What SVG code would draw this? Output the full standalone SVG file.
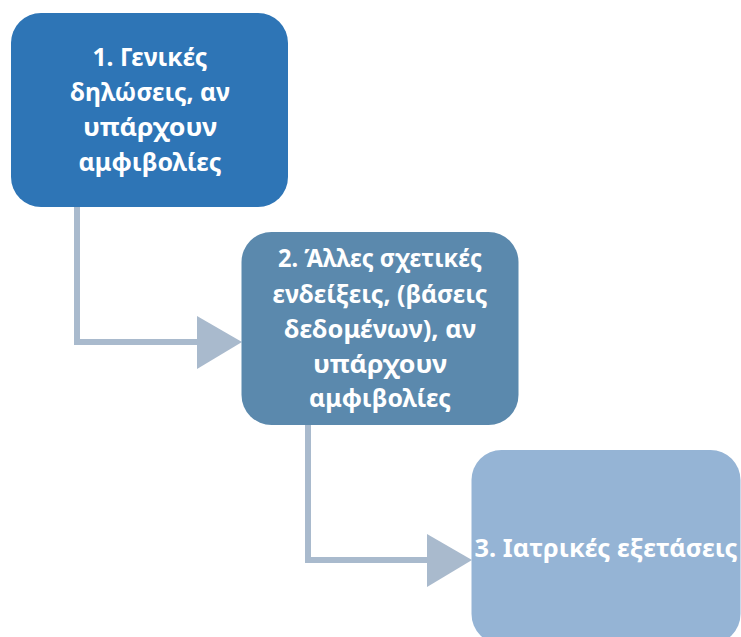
<svg xmlns="http://www.w3.org/2000/svg" width="741" height="637" viewBox="0 0 741 637">
  <style>
    .box-text { font-family: "Noto Sans", "Open Sans", sans-serif; font-weight: bold; font-size: 25px; fill: #ffffff; text-anchor: middle; }
    .link { fill: none; stroke: #a9bacd; stroke-width: 6; }
    .head { fill: #a9bacd; }
  </style>
  <rect width="741" height="637" fill="#ffffff"/>

  <!-- connectors: elbow lines ending in triangular heads -->
  <g id="connectors">
    <polyline class="link" points="77,207 77,342 198,342"/>
    <polygon class="head" points="197,316 242,342 197,369"/>
    <polyline class="link" points="308,424 308,560 428,560"/>
    <polygon class="head" points="427,534 472,560 427,587"/>
  </g>

  <g id="node1">
    <rect x="11" y="13" width="277" height="194" rx="30" fill="#2e75b6"/>
    <text class="box-text" x="150" y="66" textLength="115" lengthAdjust="spacingAndGlyphs">1. Γενικές</text>
    <text class="box-text" x="150" y="101" textLength="160" lengthAdjust="spacingAndGlyphs">δηλώσεις, αν</text>
    <text class="box-text" x="150" y="136" textLength="134" lengthAdjust="spacingAndGlyphs">υπάρχουν</text>
    <text class="box-text" x="150" y="171" textLength="143" lengthAdjust="spacingAndGlyphs">αμφιβολίες</text>
  </g>

  <g id="node2">
    <rect x="241.5" y="232" width="277" height="193" rx="30" fill="#5b89ad"/>
    <text class="box-text" x="380" y="267" textLength="204" lengthAdjust="spacingAndGlyphs">2. Άλλες σχετικές</text>
    <text class="box-text" x="380" y="303" textLength="215" lengthAdjust="spacingAndGlyphs">ενδείξεις, (βάσεις</text>
    <text class="box-text" x="380" y="338" textLength="192" lengthAdjust="spacingAndGlyphs">δεδομένων), αν</text>
    <text class="box-text" x="380" y="373" textLength="134" lengthAdjust="spacingAndGlyphs">υπάρχουν</text>
    <text class="box-text" x="380" y="407" textLength="142" lengthAdjust="spacingAndGlyphs">αμφιβολίες</text>
  </g>

  <g id="node3">
    <rect x="471.5" y="450" width="269" height="194" rx="30" fill="#95b4d5"/>
    <text class="box-text" x="606" y="557" textLength="263" lengthAdjust="spacingAndGlyphs">3. Ιατρικές εξετάσεις</text>
  </g>
</svg>
